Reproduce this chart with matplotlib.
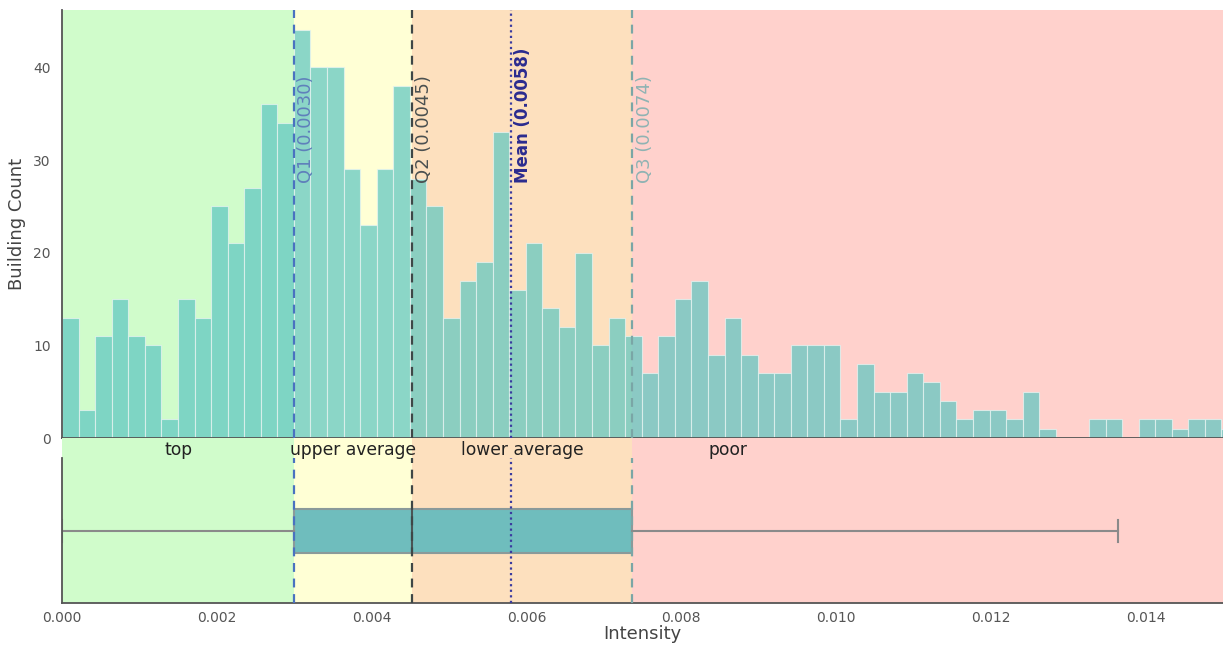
import matplotlib.pyplot as plt
import numpy as np

# histogram counts, one per bin (bin width)
bin_width = 0.000214
counts = [13, 3, 11, 15, 11, 10, 2, 15, 13, 25, 21, 27, 36, 34, 44, 40, 40, 29, 23, 29,
          38, 28, 25, 13, 17, 19, 33, 16, 21, 14, 12, 20, 10, 13, 11, 7, 11, 15, 17, 9,
          13, 9, 7, 7, 10, 10, 10, 2, 8, 5, 5, 7, 6, 4, 2, 3, 3, 2, 5, 1,
          0, 0, 2, 2, 0, 2, 2, 1, 2, 2, 1]

# summary statistics
q1 = 0.00300
q2 = 0.00452
mean = 0.00580
q3 = 0.00737
whis_lo = 0.0
whis_hi = 0.01364
x_max = 0.015

regions = ['top', 'upper average', 'lower average', 'poor']
region_colors = ['#d0fccb', '#ffffd5', '#fde0be', '#ffd1cc']
region_label_x = [(0 + q1) / 2, (q1 + q2) / 2, (q2 + q3) / 2, 0.0086]

def main():
  fig = plt.figure(figsize=(12.23, 6.47), dpi=100)
  ax1 = fig.add_axes([62/1223, 1-438/647, 1-62/1223, 428/647])
  ax2 = fig.add_axes([62/1223, 1-603/647, 1-62/1223, 165/647], sharex=ax1)

  edges = [0.0, q1, q2, q3, x_max]
  for ax in (ax1, ax2):
    for i in range(4):
      ax.axvspan(edges[i], edges[i+1], color=region_colors[i], lw=0, zorder=0)

  # histogram
  left = np.arange(len(counts)) * bin_width
  ax1.bar(left, counts, width=bin_width, align='edge', color='#5fc7c2', alpha=0.72,
          edgecolor='#e8f4f2', linewidth=0.8, zorder=2)
  ax1.set_ylim(0, max(counts) * 1.05)
  ax1.set_xlim(0, x_max)

  lines = [
    (q1, 'Q1', '#4a72c0', '#5f80bb', (0, (4, 3)), 'normal', 13),
    (q2, 'Q2', '#3f4747', '#4a5050', (0, (4, 3)), 'normal', 13),
    (mean, 'Mean', '#3b3ba0', '#2b2b8f', (0, (1, 1.5)), 'bold', 12),
    (q3, 'Q3', '#7aa6a6', '#8fb3b3', (0, (4, 3)), 'normal', 13),
  ]
  for val, name, lc, tc, ls, fw, fs in lines:
    ax1.axvline(val, color=lc, linestyle=ls, lw=1.6, zorder=4)
    ax2.axvline(val, color=lc, linestyle=ls, lw=1.6, ymax=0.879, zorder=4)
    ax1.text(val + 0.00004, 27.5, f'{name} ({val:.4f})', rotation=90, ha='left', va='bottom',
             color=tc, fontsize=fs, fontweight=fw, zorder=5)

  # boxplot
  stats = [dict(q1=q1, med=q2, q3=q3, whislo=whis_lo, whishi=whis_hi, fliers=[])]
  ax2.bxp(stats, positions=[0.436], widths=0.267, vert=False, patch_artist=True,
          showfliers=False, manage_ticks=False,
          boxprops=dict(facecolor='#6fbdbd', edgecolor='#8a9a9a', linewidth=1.5),
          medianprops=dict(color='#4a5555', linewidth=1.5),
          whiskerprops=dict(color='#8a8a8a', linewidth=1.5),
          capprops=dict(color='#8a8a8a', linewidth=1.5))
  ax2.set_ylim(0, 1)

  for name, x in zip(regions, region_label_x):
    ax2.text(x, 0.927, name, ha='center', va='center', fontsize=12.3, color='#222222')

  # styling
  for ax in (ax1, ax2):
    ax.spines['top'].set_visible(False)
    ax.spines['right'].set_visible(False)
    for s in ('left', 'bottom'):
      ax.spines[s].set_color('#555555')
      ax.spines[s].set_linewidth(1.3)
  ax2.spines['left'].set_bounds(0, 0.879)

  ax1.set_yticks([0, 10, 20, 30, 40])
  ax1.tick_params(axis='y', length=0, labelsize=10, labelcolor='#555555', pad=8)
  ax1.tick_params(axis='x', bottom=False, labelbottom=False)
  ax1.set_ylabel('Building Count', fontsize=13, color='#444444', labelpad=5)

  ax2.set_yticks([])
  ax2.set_xticks([0.000, 0.002, 0.004, 0.006, 0.008, 0.010, 0.012, 0.014])
  ax2.set_xticklabels(['0.000', '0.002', '0.004', '0.006', '0.008', '0.010', '0.012', '0.014'])
  ax2.tick_params(axis='x', length=0, labelsize=10, labelcolor='#555555', pad=6)
  ax2.set_xlabel('Intensity', fontsize=13, color='#444444', labelpad=0)

  plt.savefig('out.png', dpi=100)

if __name__ == '__main__':
  main()
